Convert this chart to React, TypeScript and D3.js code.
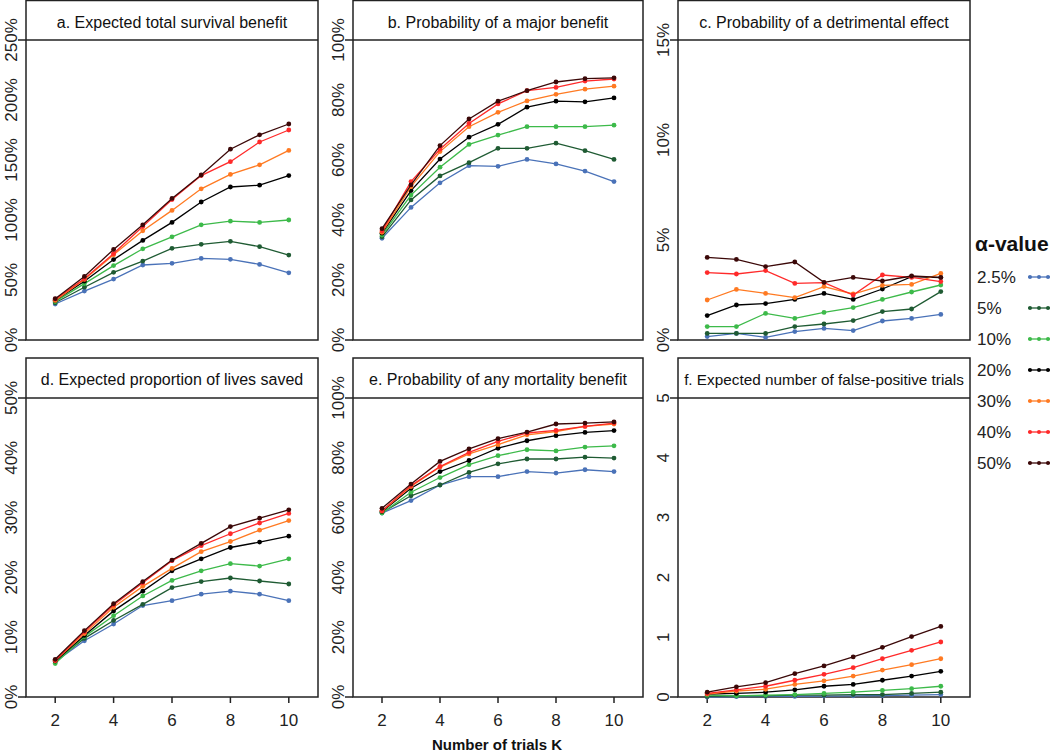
import React from "react";
import * as d3 from "d3";

// K values shared by every panel
const trials = [2, 3, 4, 5, 6, 7, 8, 9, 10];
const xTicks = [2, 4, 6, 8, 10];

const alphaLabels = ["2.5%", "5%", "10%", "20%", "30%", "40%", "50%"];
const alphaColors = ["#4a72b8", "#1f5b33", "#3dba4a", "#000000", "#ff7a22", "#ff2a2a", "#3b0808"];

// a. Expected total survival benefit (%)
const survivalBenefit = [
  [30, 40.8, 50.8, 62.5, 63.9, 68, 67.2, 63, 56],
  [31, 44, 56.4, 65.8, 76.4, 79.7, 82.2, 77.8, 70.8],
  [32, 47, 62, 76, 86, 96, 99, 98, 100],
  [33, 49, 67, 83, 98, 115, 127.5, 129, 137],
  [33, 50.5, 71, 91, 108, 126, 138, 146, 158],
  [34, 51, 72, 94.5, 117, 137, 148.6, 165, 175],
  [34.4, 53, 75.5, 96, 118, 137.5, 159, 171, 180],
];

// b. Probability of a major benefit (%)
const majorBenefit = [
  [33.9, 44.2, 52.4, 58.1, 57.9, 60.2, 58.7, 56.3, 52.8],
  [34.4, 46.7, 54.7, 59.1, 63.9, 63.9, 65.6, 63.1, 60.2],
  [35, 48.3, 57.6, 65.2, 68.3, 71.1, 71.1, 71.1, 71.6],
  [35.6, 49.8, 60.3, 67.6, 71.9, 77.6, 79.6, 79.4, 80.7],
  [35.9, 51.1, 62.8, 71.1, 75.9, 79.7, 81.9, 83.6, 84.6],
  [36.3, 52.8, 63.6, 72.2, 78.7, 83.1, 84.2, 86.3, 87],
  [37.1, 51.7, 64.8, 73.7, 79.6, 83.1, 86, 87.1, 87.4],
];

// c. Probability of a detrimental effect (%)
const detrimental = [
  [0.17, 0.33, 0.13, 0.42, 0.58, 0.47, 0.95, 1.08, 1.28],
  [0.33, 0.33, 0.33, 0.67, 0.8, 0.97, 1.42, 1.55, 2.42],
  [0.67, 0.67, 1.33, 1.08, 1.38, 1.62, 2.03, 2.4, 2.75],
  [1.22, 1.75, 1.82, 2.03, 2.33, 2.03, 2.55, 3.17, 3.12],
  [2.0, 2.53, 2.33, 2.12, 2.67, 2.3, 2.73, 2.78, 3.33],
  [3.37, 3.3, 3.47, 2.83, 2.87, 2.25, 3.25, 3.13, 2.92],
  [4.13, 4.03, 3.67, 3.9, 2.88, 3.13, 2.95, 3.2, 3.13],
];

// d. Expected proportion of lives saved (%)
const livesSaved = [
  [5.9, 9.4, 12.2, 15.3, 16.1, 17.2, 17.7, 17.2, 16.1],
  [6.0, 9.8, 12.8, 15.5, 18.3, 19.3, 19.9, 19.4, 18.9],
  [5.6, 10.1, 13.6, 16.9, 19.5, 21.1, 22.3, 21.9, 23.1],
  [6.0, 10.3, 14.4, 17.7, 21.1, 23.1, 25.0, 25.9, 26.9],
  [6.1, 10.6, 15.0, 18.5, 21.5, 24.3, 26.0, 27.9, 29.5],
  [6.1, 10.9, 15.4, 19.1, 22.8, 25.3, 27.3, 29.1, 30.7],
  [6.3, 11.1, 15.6, 19.3, 22.9, 25.7, 28.5, 29.9, 31.3],
];

// e. Probability of any mortality benefit (%)
const anyBenefit = [
  [61.5, 65.7, 70.9, 73.7, 73.7, 75.4, 74.9, 76.0, 75.4],
  [61.7, 67.3, 70.9, 75.1, 78.0, 79.6, 79.6, 80.2, 79.9],
  [61.5, 68.5, 73.4, 77.7, 80.7, 82.7, 82.3, 83.6, 84.0],
  [62.0, 69.8, 75.4, 79.1, 83.2, 85.7, 87.4, 88.5, 89.1],
  [62.2, 70.4, 76.9, 81.3, 84.4, 87.7, 88.8, 90.5, 91.3],
  [62.3, 70.7, 77.1, 81.8, 85.5, 88.3, 89.2, 90.5, 91.6],
  [63.1, 71.2, 78.8, 83.0, 86.4, 88.6, 91.3, 91.6, 92.0],
];

// f. Expected number of false-positive trials
const falsePositives = [
  [0.0, 0.005, 0.01, 0.01, 0.015, 0.02, 0.025, 0.03, 0.04],
  [0.01, 0.02, 0.02, 0.03, 0.03, 0.04, 0.04, 0.06, 0.08],
  [0.03, 0.02, 0.03, 0.04, 0.06, 0.08, 0.11, 0.14, 0.18],
  [0.05, 0.06, 0.08, 0.12, 0.18, 0.21, 0.28, 0.35, 0.43],
  [0.05, 0.1, 0.13, 0.21, 0.27, 0.35, 0.45, 0.54, 0.64],
  [0.06, 0.12, 0.18, 0.28, 0.38, 0.49, 0.64, 0.78, 0.92],
  [0.08, 0.17, 0.24, 0.39, 0.52, 0.67, 0.83, 1.01, 1.18],
];

const panels = [
  { title: "a. Expected total survival benefit", data: survivalBenefit, max: 250, ticks: [0, 50, 100, 150, 200, 250], pct: true, col: 0, row: 0 },
  { title: "b. Probability of a major benefit", data: majorBenefit, max: 100, ticks: [0, 20, 40, 60, 80, 100], pct: true, col: 1, row: 0 },
  { title: "c. Probability of a detrimental effect", data: detrimental, max: 15, ticks: [0, 5, 10, 15], pct: true, col: 2, row: 0 },
  { title: "d. Expected proportion of lives saved", data: livesSaved, max: 50, ticks: [0, 10, 20, 30, 40, 50], pct: true, col: 0, row: 1 },
  { title: "e. Probability of any mortality benefit", data: anyBenefit, max: 100, ticks: [0, 20, 40, 60, 80, 100], pct: true, col: 1, row: 1 },
  { title: "f. Expected number of false-positive trials", data: falsePositives, max: 5, ticks: [0, 1, 2, 3, 4, 5], pct: false, col: 2, row: 1 },
];

const colX = [[26, 318], [353, 643], [678, 970]];
const rowY = [{ top: 0.5, strip: 40, bottom: 340 }, { top: 358, strip: 398, bottom: 697 }];
const font = "'Liberation Sans', Arial, sans-serif";

function Panel({ p }) {
  const [x0, x1] = colX[p.col];
  const r = rowY[p.row];
  const x = d3.scaleLinear().domain([1, 11]).range([x0, x1]);
  const y = d3.scaleLinear().domain([0, p.max]).range([r.bottom, r.strip]);
  const line = d3.line<number>().x((_, i) => x(trials[i])).y((d) => y(d));
  // the longest title has to fit inside its strip
  const titleSize = p.title.length > 40 ? 15.3 : 16;
  return (
    <g>
      <rect x={x0} y={r.top} width={x1 - x0} height={r.bottom - r.top} fill="none" stroke="#222" strokeWidth={1.5} />
      <line x1={x0 - 8} x2={x1} y1={r.strip} y2={r.strip} stroke="#222" strokeWidth={1.5} />
      <line x1={x0 - 8} x2={x0} y1={r.bottom} y2={r.bottom} stroke="#222" strokeWidth={1.5} />
      <text x={(x0 + x1) / 2} y={r.top + 27} textAnchor="middle" fontSize={titleSize} fontFamily={font} fill="#111">
        {p.title}
      </text>
      {p.ticks.map((t) => (
        <text
          key={t}
          transform={`translate(${x0 - 9},${y(t)}) rotate(-90)`}
          textAnchor="middle"
          fontSize={17}
          fontFamily={font}
          fill="#222"
        >
          {p.pct ? `${t}%` : t}
        </text>
      ))}
      {p.row === 1 &&
        xTicks.map((t) => (
          <g key={t}>
            <line x1={x(t)} x2={x(t)} y1={r.bottom} y2={r.bottom + 6} stroke="#222" strokeWidth={1.5} />
            <text x={x(t)} y={r.bottom + 29} textAnchor="middle" fontSize={17} fontFamily={font} fill="#222">
              {t}
            </text>
          </g>
        ))}
      {p.data.map((s, k) => (
        <g key={k}>
          <path d={line(s) || ""} fill="none" stroke={alphaColors[k]} strokeWidth={1.3} />
          {s.map((v, i) => (
            <circle key={i} cx={x(trials[i])} cy={y(v)} r={2.4} fill={alphaColors[k]} />
          ))}
        </g>
      ))}
    </g>
  );
}

export default function App() {
  const legendY = d3.scaleLinear().domain([0, 6]).range([283, 469]);
  return (
    <svg width={1050} height={753} style={{ position: "absolute", left: 0, top: 0, background: "#fff" }}>
      {panels.map((p) => (
        <Panel key={p.title} p={p} />
      ))}
      <text x={497} y={750} textAnchor="middle" fontSize={15} fontWeight="bold" fontFamily={font} fill="#111">
        Number of trials K
      </text>
      <text x={975} y={251} fontSize={21} fontWeight="bold" fontFamily={font} fill="#111">
        α-value
      </text>
      {alphaLabels.map((lab, k) => (
        <g key={lab}>
          <text x={977} y={legendY(k)} fontSize={17} fontFamily={font} fill="#222">
            {lab}
          </text>
          <line x1={1028} x2={1050} y1={legendY(k) - 6} y2={legendY(k) - 6} stroke={alphaColors[k]} strokeWidth={1.3} />
          {[1030, 1039, 1048].map((cx) => (
            <circle key={cx} cx={cx} cy={legendY(k) - 6} r={2} fill={alphaColors[k]} />
          ))}
        </g>
      ))}
    </svg>
  );
}
